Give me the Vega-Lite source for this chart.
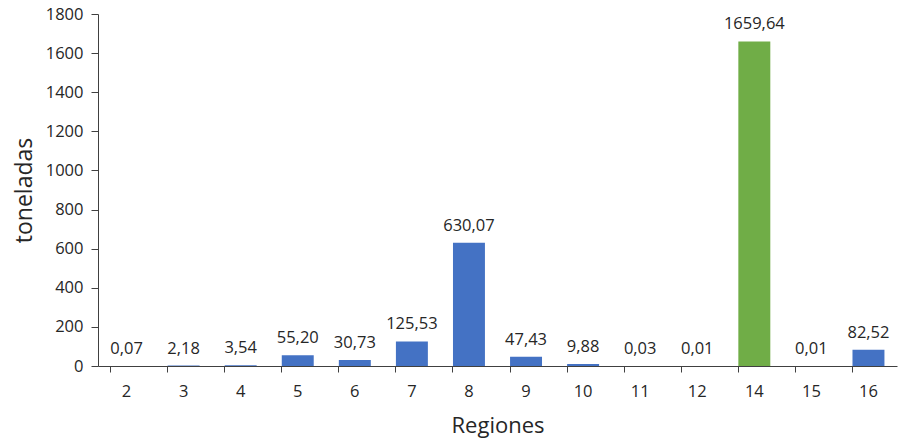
{
  "$schema": "https://vega.github.io/schema/vega-lite/v6.json",
  "width": 799,
  "height": 352,
  "autosize": {"type": "none"},
  "padding": {"left": 98, "top": 14, "right": 6, "bottom": 72},
  "background": "white",
  "config": {
    "locale": {"number": {"decimal": ",", "thousands": ".", "grouping": [3], "currency": ["", " €"]}},
    "font": "Open Sans",
    "view": {"stroke": null},
    "axis": {"domainColor": "#404040", "tickColor": "#404040", "labelColor": "#262626", "titleColor": "#262626", "grid": false, "labelFont": "Open Sans", "titleFont": "Open Sans", "titleFontWeight": "normal"}
  },
  "data": {
    "values": [
      {"region": "2", "toneladas": 0.07},
      {"region": "3", "toneladas": 2.18},
      {"region": "4", "toneladas": 3.54},
      {"region": "5", "toneladas": 55.20},
      {"region": "6", "toneladas": 30.73},
      {"region": "7", "toneladas": 125.53},
      {"region": "8", "toneladas": 630.07},
      {"region": "9", "toneladas": 47.43},
      {"region": "10", "toneladas": 9.88},
      {"region": "11", "toneladas": 0.03},
      {"region": "12", "toneladas": 0.01},
      {"region": "14", "toneladas": 1659.64},
      {"region": "15", "toneladas": 0.01},
      {"region": "16", "toneladas": 82.52}
    ]
  },
  "encoding": {
    "x": {
      "field": "region", "type": "ordinal", "sort": null,
      "scale": {"paddingInner": 0.44, "paddingOuter": 0.22},
      "axis": {"title": "Regiones", "labelAngle": 0, "labelFontSize": 16.5, "titleFontSize": 22, "tickSize": 6, "bandPosition": 0, "labelPadding": 11, "titlePadding": 16}
    },
    "y": {
      "field": "toneladas", "type": "quantitative",
      "scale": {"domain": [0, 1800], "nice": false},
      "axis": {"title": "toneladas", "values": [0, 200, 400, 600, 800, 1000, 1200, 1400, 1600, 1800], "format": "d", "labelFontSize": 16.5, "titleFontSize": 23, "tickSize": 7, "labelPadding": 8, "titlePadding": 9}
    }
  },
  "layer": [
    {
      "mark": {"type": "bar"},
      "encoding": {
        "color": {
          "condition": {"test": "datum.region == '14'", "value": "#70AD47"},
          "value": "#4472C4"
        }
      }
    },
    {
      "mark": {"type": "text", "baseline": "bottom", "dy": -9, "fontSize": 16.5, "color": "#262626"},
      "encoding": {
        "text": {"field": "toneladas", "type": "quantitative", "format": ".2f"}
      }
    }
  ]
}
